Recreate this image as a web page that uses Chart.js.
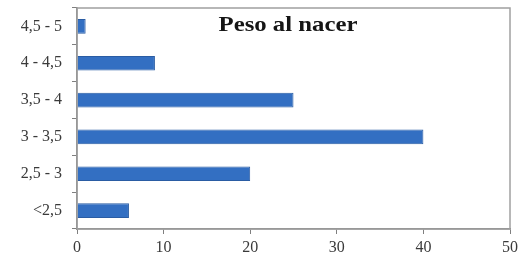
<!DOCTYPE html>
<html>
<head>
<meta charset="utf-8">
<script src="https://cdn.jsdelivr.net/npm/chart.js@4"></script>
<style>
  html, body { margin: 0; padding: 0; background: #fff; }
  #wrap { width: 521px; height: 262px; }
</style>
</head>
<body>
<div id="wrap"><canvas id="grafico-peso"></canvas></div>
<script>
// Datos
let categorias = ["4,5 - 5", "4 - 4,5", "3,5 - 4", "3 - 3,5", "2,5 - 3", "<2,5"];
let valores = [1, 9, 25, 40, 20, 6];
let ticksX = [0, 10, 20, 30, 40, 50];
let titulo = "Peso al nacer";

const fuente = "'Liberation Serif', 'DejaVu Serif', serif";

// borde del área del gráfico + título dentro
const marcoPlugin = {
    id: "marco",
    afterDraw(chart) {
        const { ctx, chartArea } = chart;
        ctx.save();
        ctx.strokeStyle = "#a0a0a0";
        ctx.lineWidth = 1.5;
        ctx.strokeRect(chartArea.left, chartArea.top, chartArea.right - chartArea.left, chartArea.bottom - chartArea.top);
        ctx.fillStyle = "#151515";
        ctx.font = "bold 21px " + fuente;
        ctx.textAlign = "center";
        ctx.textBaseline = "middle";
        // el título del original está algo estirado en horizontal
        ctx.translate(288, 26);
        ctx.scale(1.18, 1);
        ctx.fillText(titulo, 0, 0);
        ctx.restore();
    }
};

let myChartPeso = new Chart(
    document.getElementById("grafico-peso"),
    {
        type: "bar",
        data: {
            labels: categorias,
            datasets: [
                {
                    label: "",
                    data: valores,
                    backgroundColor: "#336fc2",
                    borderColor: "#2a5ca3",
                    borderWidth: 1,
                    barPercentage: 0.4,
                    categoryPercentage: 1
                },
            ]
        },
        plugins: [marcoPlugin],
        options: {
            indexAxis: "y",
            responsive: true,
            maintainAspectRatio: false,
            animation: false,
            layout: { padding: { top: 8, right: 11, left: 0, bottom: 0 } },
            scales: {
                x: {
                    min: 0,
                    max: 50,
                    afterBuildTicks: (scale) => { scale.ticks = ticksX.map(v => ({ value: v })) },
                    afterFit: (scale) => { scale.height = 33; scale.paddingLeft = 0; scale.paddingRight = 0 },
                    grid: { drawOnChartArea: false, tickLength: 5, color: "#7f7f7f" },
                    border: { color: "#7f7f7f", width: 1.5 },
                    ticks: { color: "#3a3a3a", font: { family: fuente, size: 16 }, padding: 4 }
                },
                y: {
                    afterFit: (scale) => { scale.width = 77; scale.paddingTop = 0; scale.paddingBottom = 0 },
                    grid: { drawOnChartArea: false, tickLength: 5, offset: true, color: "#7f7f7f" },
                    border: { color: "#7f7f7f", width: 1.5 },
                    ticks: { color: "#3a3a3a", font: { family: fuente, size: 16 }, padding: 10 }
                }
            },
            plugins: {
                legend: { display: false },
                tooltip: { enabled: false }
            }
        }
    }
);
</script>
</body>
</html>
